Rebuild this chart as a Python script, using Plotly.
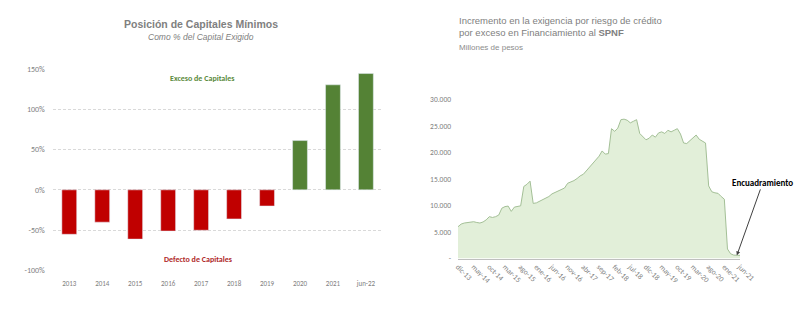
import plotly.graph_objects as go

# ---- Left chart data ----
years = ["2013", "2014", "2015", "2016", "2017", "2018", "2019", "2020", "2021", "jun-22"]
capital_position = [-55, -40, -61, -51, -50, -36, -20, 61, 130, 144]

# ---- Right chart data (monthly, dic-13 .. jun-21) ----
exigencia = [
    6000, 6500, 6700, 6800, 6850, 6950, 6800, 6700, 6900, 7300,
    7900, 7750, 7900, 8200, 9500, 9800, 9900, 8900, 9700, 9850,
    9950, 13600, 14000, 14600, 10400, 10500, 10800, 11100, 11400, 11700,
    12200, 12500, 12800, 13100, 13300, 14200, 14400, 14700, 15100, 15600,
    15900, 16600, 17300, 17900, 18500, 19300, 20300, 19700, 19800, 24500,
    24000, 24600, 26200, 26300, 26100, 25600, 25900, 26200, 23600, 22900,
    22400, 22700, 23300, 22900, 23700, 23900, 23600, 24200, 23900, 24200,
    24500, 23500, 21800, 21700, 22200, 22800, 23300, 22500, 22100, 21800,
    13700, 12600, 12400, 12300, 11700, 11200, 1800, 900, 650, 600, 600,
]
mes_abbr = ["ene", "feb", "mar", "abr", "may", "jun", "jul", "ago", "sep", "oct", "nov", "dic"]
meses = []
m, y = 11, 13
for _ in exigencia:
    meses.append(f"{mes_abbr[m]}-{y:02d}")
    m += 1
    if m == 12:
        m, y = 0, y + 1
tick_meses = meses[::5]
y_ticks = [0, 5000, 10000, 15000, 20000, 25000, 30000]
y_ticktext = ["-", "5.000", "10.000", "15.000", "20.000", "25.000", "30.000"]

bar_colors = ["#c00000" if v < 0 else "#548235" for v in capital_position]

fig = go.Figure()
fig.add_trace(go.Bar(x=years, y=capital_position, marker_color=bar_colors,
                     width=0.45, xaxis="x", yaxis="y", showlegend=False))
fig.add_trace(go.Scatter(x=meses, y=exigencia, mode="lines", fill="tozeroy",
                         line=dict(color="#a3bf96", width=1),
                         fillcolor="#e2efd9", xaxis="x2", yaxis="y2",
                         showlegend=False))

gray = "#808080"
tickf = dict(color="#7f7f7f", family="Carlito, Lato, sans-serif")
fig.update_layout(
    width=800, height=318,
    margin=dict(l=0, r=0, t=0, b=0),
    paper_bgcolor="white", plot_bgcolor="white",
    font=dict(family="Liberation Sans, Arial, sans-serif", color=gray),
    xaxis=dict(domain=[0.066, 0.478], type="category", range=[-0.5, 9.5],
               showgrid=False, showline=False, ticks="",
               tickfont=dict(size=7, **tickf), ticklabelstandoff=7,
               anchor="y", automargin=False),
    yaxis=dict(domain=[0.149, 0.784], range=[-100, 150], tickvals=[-100, -50, 0, 50, 100, 150],
               ticktext=["-100%", "-50%", "0%", "50%", "100%", "150%"],
               showgrid=True, gridcolor="#d9d9d9", griddash="3px,2px", gridwidth=1,
               zeroline=False, showline=False,
               tickfont=dict(size=8, **tickf),
               anchor="x", ticklabelstandoff=7, automargin=False),
    xaxis2=dict(domain=[0.5725, 0.925], type="category", range=[0, len(meses) - 1],
                tickvals=tick_meses, ticktext=tick_meses, tickangle=45,
                showgrid=False, showline=True, linecolor="#bfbfbf", linewidth=1, ticks="",
                tickfont=dict(size=7.5, **tickf),
                anchor="y2", automargin=False),
    yaxis2=dict(domain=[0.187, 0.687], range=[0, 30000], tickvals=y_ticks, ticktext=y_ticktext,
                showgrid=False, zeroline=False, showline=False,
                tickfont=dict(size=7.5, **tickf),
                anchor="x2", ticklabelstandoff=6, automargin=False),
    bargap=0.55,
)

fig.add_annotation(xref="paper", yref="paper", x=201 / 800, y=1 - 24 / 318,
                   text="<b>Posición de Capitales Mínimos</b>", showarrow=False,
                   font=dict(size=10.5, color=gray), xanchor="center", yanchor="middle")
fig.add_annotation(xref="paper", yref="paper", x=201 / 800, y=1 - 37 / 318,
                   text="<i>Como % del Capital Exigido</i>", showarrow=False,
                   font=dict(size=8.5, color=gray), xanchor="center", yanchor="middle")
fig.add_annotation(xref="paper", yref="paper", x=202 / 800, y=1 - 78 / 318,
                   text="<b>Exceso de Capitales</b>", showarrow=False,
                   font=dict(size=8, color="#5b8a3c", family="Carlito, Lato, sans-serif"),
                   xanchor="center", yanchor="middle")
fig.add_annotation(xref="paper", yref="paper", x=198 / 800, y=1 - 259 / 318,
                   text="<b>Defecto de Capitales</b>", showarrow=False,
                   font=dict(size=8, color="#b02a2a", family="Carlito, Lato, sans-serif"),
                   xanchor="center", yanchor="middle")

fig.add_annotation(xref="paper", yref="paper", x=457 / 800, y=1 - 13 / 318,
                   text="Incremento en la exigencia por riesgo de crédito<br>por exceso en Financiamiento al <b>SPNF</b>",
                   showarrow=False, align="left",
                   font=dict(size=9.5, color=gray), xanchor="left", yanchor="top")
fig.add_annotation(xref="paper", yref="paper", x=457 / 800, y=1 - 41 / 318,
                   text="Millones de pesos", showarrow=False, align="left",
                   font=dict(size=8, color="#8c8c8c"), xanchor="left", yanchor="top")

fig.add_annotation(xref="x2", yref="y2", x=meses[-2], y=exigencia[-2],
                   text="<b>Encuadramiento</b>", showarrow=True,
                   arrowhead=2, arrowsize=0.8, arrowwidth=1, arrowcolor="#404040",
                   ax=26, ay=-73, font=dict(size=9, color="#000000", family="Carlito, Lato, sans-serif"))

fig.write_html("out.html")
